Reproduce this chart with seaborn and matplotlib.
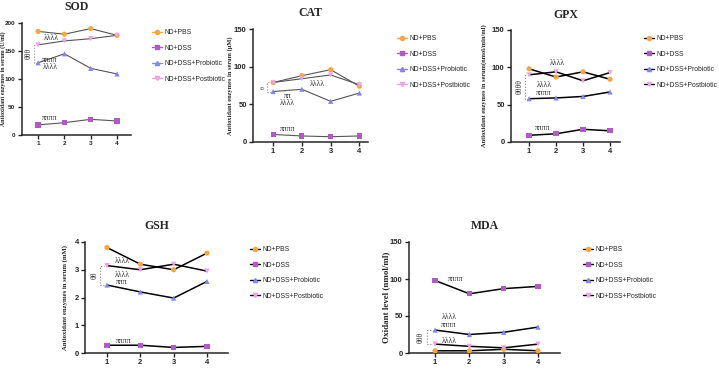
import pandas as pd
import seaborn as sns
import matplotlib.pyplot as plt
from matplotlib.lines import Line2D

# groups / days
groups = ["ND+PBS", "ND+DSS", "ND+DSS+Probiotic", "ND+DSS+Postbiotic"]
days = [1, 2, 3, 4]

# values (one list per group)
sod_pbs = [185, 180, 190, 178]
sod_dss = [18, 22, 28, 25]
sod_pro = [129, 145, 119, 109]
sod_post = [161, 168, 172, 178]

cat_pbs = [79, 88, 96, 74]
cat_dss = [10, 8, 7, 8]
cat_pro = [67, 70, 54, 65]
cat_post = [79, 84, 89, 76]

gpx_pbs = [98, 87, 94, 84]
gpx_dss = [9, 11, 17, 15]
gpx_pro = [58, 59, 61, 67]
gpx_post = [90, 94, 82, 93]

gsh_pbs = [3.8, 3.2, 3.0, 3.6]
gsh_dss = [0.28, 0.28, 0.2, 0.24]
gsh_pro = [2.45, 2.2, 1.98, 2.58]
gsh_post = [3.15, 3.0, 3.2, 2.95]

mda_pbs = [3, 3, 5, 3]
mda_dss = [98, 80, 87, 90]
mda_pro = [31, 25, 28, 35]
mda_post = [12, 9, 7, 12]

palette = {"ND+PBS": "#F4A640", "ND+DSS": "#B258C8",
           "ND+DSS+Probiotic": "#8585EE", "ND+DSS+Postbiotic": "#F2A2E6"}
markers = {"ND+PBS": "o", "ND+DSS": "s",
           "ND+DSS+Probiotic": "^", "ND+DSS+Postbiotic": "v"}

SERIF = "Liberation Serif"
SANS = "Liberation Sans"

W, H = 719, 369


def long_df(pbs, dss, pro, post):
    rows = []
    for g, vals in zip(groups, [pbs, dss, pro, post]):
        for d, v in zip(days, vals):
            rows.append({"day": d, "value": v, "group": g})
    return pd.DataFrame(rows)


def make_ax(fig, x0, x1, ytop, ybot):
    return fig.add_axes([x0 / W, 1 - ybot / H, (x1 - x0) / W, (ybot - ytop) / H])


def panel(fig, box, df, title, ylabel, ymax, yticks, xlim, linecolor, lw,
          ylab_x, ylab_size, legend_box, leg_line_colored, tick_size=5.5):
    x0, x1, ytop, ybot = box
    ax = make_ax(fig, x0, x1, ytop, ybot)
    sns.lineplot(data=df, x="day", y="value", units="group", estimator=None,
                 color=linecolor, lw=lw, ax=ax, legend=False, zorder=2)
    sns.scatterplot(data=df, x="day", y="value", hue="group", style="group",
                    palette=palette, markers=markers, s=14, linewidth=0,
                    ax=ax, legend=False, zorder=3)
    ax.set_xlim(*xlim)
    ax.set_ylim(0, ymax)
    ax.set_xticks(days)
    ax.set_yticks(yticks)
    ax.set_xlabel("")
    ax.set_ylabel(ylabel, fontfamily=SERIF, fontweight="bold", fontsize=ylab_size)
    ax.yaxis.set_label_coords((ylab_x - x0) / (x1 - x0), 0.5)
    ax.set_title(title, fontfamily=SERIF, fontweight="bold", fontsize=8.5, pad=9)
    sns.despine(ax=ax)
    for s in ["left", "bottom"]:
        ax.spines[s].set_linewidth(1.1)
    ax.tick_params(length=3, width=1, labelsize=tick_size, pad=1.5)
    for t in ax.get_xticklabels() + ax.get_yticklabels():
        t.set_fontfamily(SANS)
        t.set_fontweight("bold")
    ax.set_facecolor("white")

    handles = [Line2D([0], [0], color=palette[g] if leg_line_colored else "black",
                      lw=1, marker=markers[g], markersize=3,
                      markerfacecolor=palette[g], markeredgecolor=palette[g])
               for g in groups]
    lx, ly = legend_box
    fig.legend(handles, groups, loc="upper left",
               bbox_to_anchor=(lx / W, 1 - ly / H), frameon=False,
               prop={"family": SANS, "size": 4.9}, handlelength=1.4,
               handletextpad=0.4, labelspacing=1.25, borderaxespad=0,
               borderpad=0)
    return ax


def note(ax, x, y, s, size=5.5):
    ax.text(x, y, s, fontfamily=SERIF, fontsize=size, ha="center", va="center",
            color="#333333")


def bracket(ax, x, ylo, yhi, label, size=5.5):
    ax.plot([x + 0.12, x, x, x + 0.12], [ylo, ylo, yhi, yhi], ls=":",
            color="#888888", lw=0.8, zorder=1)
    ax.text(x - 0.06, (ylo + yhi) / 2, label, fontfamily=SERIF, fontsize=size,
            rotation=90, ha="right", va="center", color="#333333")


sns.set_theme(style="ticks")
fig = plt.figure(figsize=(7.19, 3.69), dpi=100)

# SOD
ax = panel(fig, (21.5, 131, 23, 135), long_df(sod_pbs, sod_dss, sod_pro, sod_post),
           "SOD", "Antioxidant enzymes in serum (U/ml)", 200, [0, 50, 100, 150, 200],
           (0.37, 4.53), "#555555", 0.8, 5.6, 4.2, (152, 29), True, tick_size=4.6)
note(ax, 1.5, 173, "λλλλ")
note(ax, 1.45, 134, "ππππ")
note(ax, 1.45, 122, "λλλλ")
note(ax, 1.45, 30, "ππππ")
bracket(ax, 0.85, 129, 161, "θθθ")

# CAT
ax = panel(fig, (253, 368, 29, 142), long_df(cat_pbs, cat_dss, cat_pro, cat_post),
           "CAT", "Antioxidant enzymes in serum (µM)", 150, [0, 50, 100, 150],
           (0.3, 4.3), "#555555", 0.8, 233, 4.6, (397, 35), True)
note(ax, 2.55, 77, "λλλλ")
note(ax, 1.5, 61, "ππ")
note(ax, 1.5, 52, "λλλλ")
note(ax, 1.5, 17, "ππππ")
bracket(ax, 0.8, 67, 79, "θ", size=4.5)

# GPX
ax = panel(fig, (511, 620, 30, 142), long_df(gpx_pbs, gpx_dss, gpx_pro, gpx_post),
           "GPX", "Antioxidant enzymes in serum(nmol/min/ml)", 150, [0, 50, 100, 150],
           (0.33, 4.37), "black", 1.1, 487, 4.6, (644, 35), False)
note(ax, 2.05, 106, "λλλλ")
note(ax, 1.55, 76, "λλλλ")
note(ax, 1.55, 65, "ππππ")
note(ax, 1.5, 19, "ππππ")
bracket(ax, 0.85, 58, 90, "θθθθ")

# GSH
ax = panel(fig, (85, 228, 242, 353), long_df(gsh_pbs, gsh_dss, gsh_pro, gsh_post),
           "GSH", "Antioxidant enzymes in serum (mM)", 4, [0, 1, 2, 3, 4],
           (0.34, 4.63), "black", 1.1, 68, 4.8, (250, 246), False)
note(ax, 1.45, 3.33, "λλλλ")
note(ax, 1.45, 2.8, "λλλλ")
note(ax, 1.45, 2.56, "πππ")
note(ax, 1.5, 0.43, "ππππ")
bracket(ax, 0.8, 2.45, 3.15, "θθ")

# MDA
ax = panel(fig, (409, 560, 242, 353), long_df(mda_pbs, mda_dss, mda_pro, mda_post),
           "MDA", "Oxidant level (nmol/ml)", 150, [0, 50, 100, 150],
           (0.24, 4.64), "black", 1.1, 390, 6.5, (583, 246), False)
note(ax, 1.6, 100, "ππππ")
note(ax, 1.4, 48, "λλλλ")
note(ax, 1.4, 38, "ππππ")
note(ax, 1.4, 16, "λλλλ")
bracket(ax, 0.75, 12, 31, "θθθ")

fig.savefig("out.png", dpi=100, facecolor="white")
